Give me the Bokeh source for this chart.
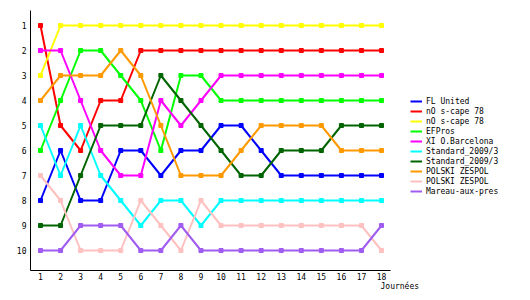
from bokeh.plotting import figure
from bokeh.models import Range1d, FixedTicker, Legend, LegendItem, Title
from bokeh.embed import file_html
from bokeh.resources import INLINE

journees = list(range(1, 19))
rank_ticks = list(range(1, 11))

team_names = ["FL United", "nO s-cape 78", "nO s-cape 78", "EFPros", "XI O.Barcelona",
              "Standard_2009/3", "Standard_2009/3", "POLSKI ZESPOL", "POLSKI ZESPOL",
              "Mareau-aux-pres"]

fl_united      = [8, 6, 8, 8, 6, 6, 7, 6, 6, 5, 5, 6, 7, 7, 7, 7, 7, 7]
nos_cape_red   = [1, 5, 6, 4, 4, 2, 2, 2, 2, 2, 2, 2, 2, 2, 2, 2, 2, 2]
nos_cape_yel   = [3, 1, 1, 1, 1, 1, 1, 1, 1, 1, 1, 1, 1, 1, 1, 1, 1, 1]
efpros         = [6, 4, 2, 2, 3, 4, 6, 3, 3, 4, 4, 4, 4, 4, 4, 4, 4, 4]
xi_barcelona   = [2, 2, 4, 6, 7, 7, 4, 5, 4, 3, 3, 3, 3, 3, 3, 3, 3, 3]
standard_cyan  = [5, 7, 5, 7, 8, 9, 8, 8, 9, 8, 8, 8, 8, 8, 8, 8, 8, 8]
standard_dark  = [9, 9, 7, 5, 5, 5, 3, 4, 5, 6, 7, 7, 6, 6, 6, 5, 5, 5]
polski_orange  = [4, 3, 3, 3, 2, 3, 5, 7, 7, 7, 6, 5, 5, 5, 5, 6, 6, 6]
polski_pink    = [7, 8, 10, 10, 10, 8, 9, 10, 8, 9, 9, 9, 9, 9, 9, 9, 9, 10]
mareau         = [10, 10, 9, 9, 9, 10, 10, 9, 10, 10, 10, 10, 10, 10, 10, 10, 10, 9]

series = [fl_united, nos_cape_red, nos_cape_yel, efpros, xi_barcelona,
          standard_cyan, standard_dark, polski_orange, polski_pink, mareau]
colors = ["#0000FF", "#FF0000", "#FFFF00", "#00FF00", "#FF00FF",
          "#00FFFF", "#006400", "#FF9900", "#FFC0C0", "#A05CF0"]

FONT = "DejaVu Sans Mono"
FS = "8px"

X0 = 1 - 10 / 20.06
X_AXIS_END = 18.45
X1 = X0 + 500 / 20.06

p = figure(width=530, height=300, output_backend="svg", toolbar_location=None,
           x_range=Range1d(X0, X1), y_range=Range1d(10.8, 0.4),
           min_border_left=30, min_border_right=0, min_border_top=10,
           min_border_bottom=30, background_fill_color="white",
           border_fill_color="white")
p.outline_line_color = None
p.xgrid.visible = False
p.ygrid.visible = False

for ax in (p.xaxis[0], p.yaxis[0]):
    ax.axis_line_color = "black"
    ax.axis_line_width = 1
    ax.major_tick_out = 0
    ax.major_tick_in = 0
    ax.minor_tick_out = 0
    ax.minor_tick_in = 0
    ax.major_label_text_font = FONT
    ax.major_label_text_font_size = FS
    ax.major_label_text_color = "black"
p.xaxis.ticker = FixedTicker(ticks=journees)
p.xaxis.bounds = (X0, X_AXIS_END)
p.yaxis.ticker = FixedTicker(ticks=rank_ticks)
p.xaxis.major_label_standoff = 2
p.yaxis.major_label_standoff = 4

items = []
for name, vals, col in zip(team_names, series, colors):
    r = p.line(journees, vals, line_color=col, line_width=2)
    p.scatter(journees, vals, marker="square", size=4, fill_color=col, line_color=col)
    items.append(LegendItem(label=name, renderers=[r]))

legend = Legend(items=items, location=(380, 74), orientation="vertical",
                label_text_font=FONT, label_text_font_size=FS,
                label_text_color="black", label_height=10, glyph_height=10,
                glyph_width=12, label_standoff=4, spacing=0, padding=0, margin=0,
                border_line_color=None, background_fill_alpha=0)
p.add_layout(legend)

p.add_layout(Title(text="Journées", align="left", offset=350, standoff=-6,
                   text_font=FONT, text_font_size=FS, text_font_style="normal",
                   text_color="black"), "below")

open("out.html", "w").write(file_html(p, INLINE))
